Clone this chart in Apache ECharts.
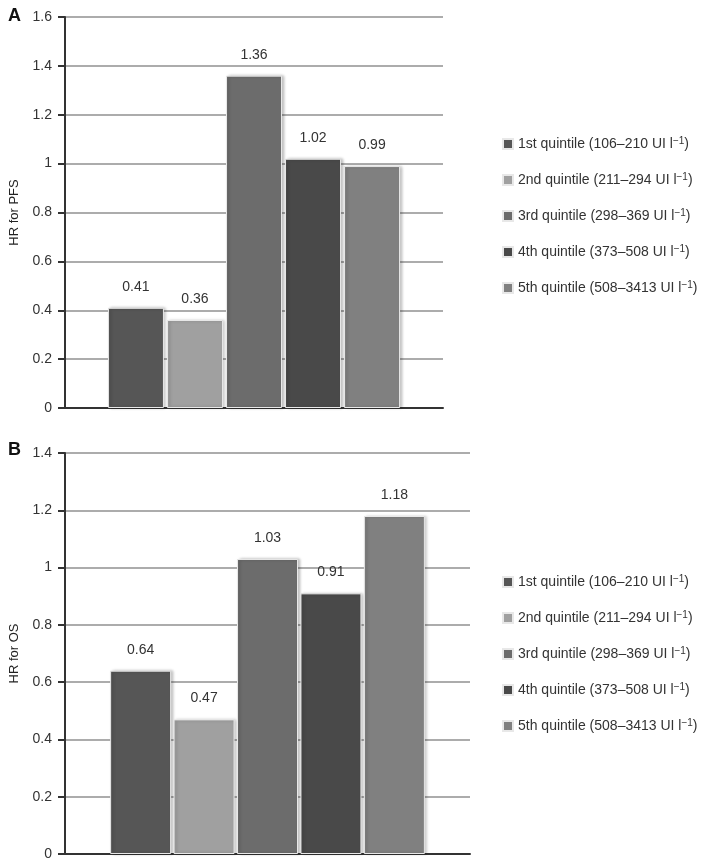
<!DOCTYPE html>
<html>
<head>
<meta charset="utf-8">
<script src="https://cdn.jsdelivr.net/npm/echarts@6/dist/echarts.min.js"></script>
<style>
html,body{margin:0;padding:0;background:#fff;}
#chart{width:703px;height:862px;}
</style>
</head>
<body>
<div id="chart"></div>
<script>
const quintileLabels = ['1st quintile (106–210 UI l', '2nd quintile (211–294 UI l', '3rd quintile (298–369 UI l', '4th quintile (373–508 UI l', '5th quintile (508–3413 UI l'];
const seriesNames = ['1st quintile', '2nd quintile', '3rd quintile', '4th quintile', '5th quintile'];
const pfsValues = [0.41, 0.36, 1.36, 1.02, 0.99];
const osValues = [0.64, 0.47, 1.03, 0.91, 1.18];
const barColors = ['#565656', '#a0a0a0', '#6c6c6c', '#494949', '#808080'];
const pfsTicks = { min: 0, max: 1.6, interval: 0.2 };
const osTicks = { min: 0, max: 1.4, interval: 0.2 };

const FONT = '"Liberation Sans", Arial, sans-serif';
const chart = echarts.init(document.getElementById('chart'), null, { renderer: 'canvas' });

const grids = [
  { left: 62, top: 17, width: 381, height: 391 },
  { left: 62, top: 453, width: 408, height: 401 }
];

function yAxis(gridIndex, ticks, name) {
  return {
    type: 'value', gridIndex, min: ticks.min, max: ticks.max, interval: ticks.interval,
    name, nameLocation: 'middle', nameGap: 44, nameRotate: 90,
    nameTextStyle: { fontFamily: FONT, fontSize: 13, color: '#222' },
    axisLine: { show: true, lineStyle: { color: '#333', width: 2 } },
    axisTick: { show: true, length: 7, lineStyle: { color: '#333', width: 2 } },
    axisLabel: { margin: 13, fontFamily: FONT, fontSize: 14, color: '#333' },
    splitLine: { show: true, lineStyle: { color: '#909090', width: 1.5 } }
  };
}
function xAxis(gridIndex) {
  return {
    type: 'category', gridIndex, data: [''],
    axisLine: { show: true, lineStyle: { color: '#333', width: 2 } },
    axisTick: { show: false }, axisLabel: { show: false }
  };
}

const series = [];
[pfsValues, osValues].forEach((vals, gi) => {
  vals.forEach((v, i) => {
    series.push({
      type: 'bar', name: seriesNames[i], xAxisIndex: gi, yAxisIndex: gi,
      data: [v], barWidth: gi === 0 ? 56 : 61, barGap: gi === 0 ? '5.4%' : '4%',
      itemStyle: { color: barColors[i], borderColor: '#e8e8e8', borderWidth: 1,
        shadowColor: 'rgba(0,0,0,0.25)', shadowBlur: 3, shadowOffsetX: 2, shadowOffsetY: 0 },
      label: { show: true, position: 'top', distance: 14, fontFamily: FONT, fontSize: 14, color: '#333',
        formatter: p => p.value.toFixed(2) }
    });
  });
});

function legend(top) {
  return {
    orient: 'vertical', left: 497, top, itemWidth: 10, itemHeight: 10, itemGap: 21, icon: 'rect',
    data: seriesNames,
    formatter: name => '{a|' + quintileLabels[seriesNames.indexOf(name)] + '}{s|−1}{a|)}',
    textStyle: { fontFamily: FONT, fontSize: 14, color: '#333',
      rich: { a: { fontFamily: FONT, fontSize: 14, color: '#333', height: 16 },
              s: { fontFamily: FONT, fontSize: 10, color: '#333', verticalAlign: 'top', padding: [0, 0, 6, 0] } } }
  };
}

chart.setOption({
  animation: false,
  color: barColors,
  grid: grids,
  xAxis: [xAxis(0), xAxis(1)],
  yAxis: [yAxis(0, pfsTicks, 'HR for PFS'), yAxis(1, osTicks, 'HR for OS')],
  legend: [legend(131), legend(569)],
  graphic: [
    { type: 'text', left: 8, top: 7, style: { text: 'A', font: 'bold 18px ' + FONT, fill: '#111' } },
    { type: 'text', left: 8, top: 441, style: { text: 'B', font: 'bold 18px ' + FONT, fill: '#111' } }
  ],
  series
});
</script>
</body>
</html>
